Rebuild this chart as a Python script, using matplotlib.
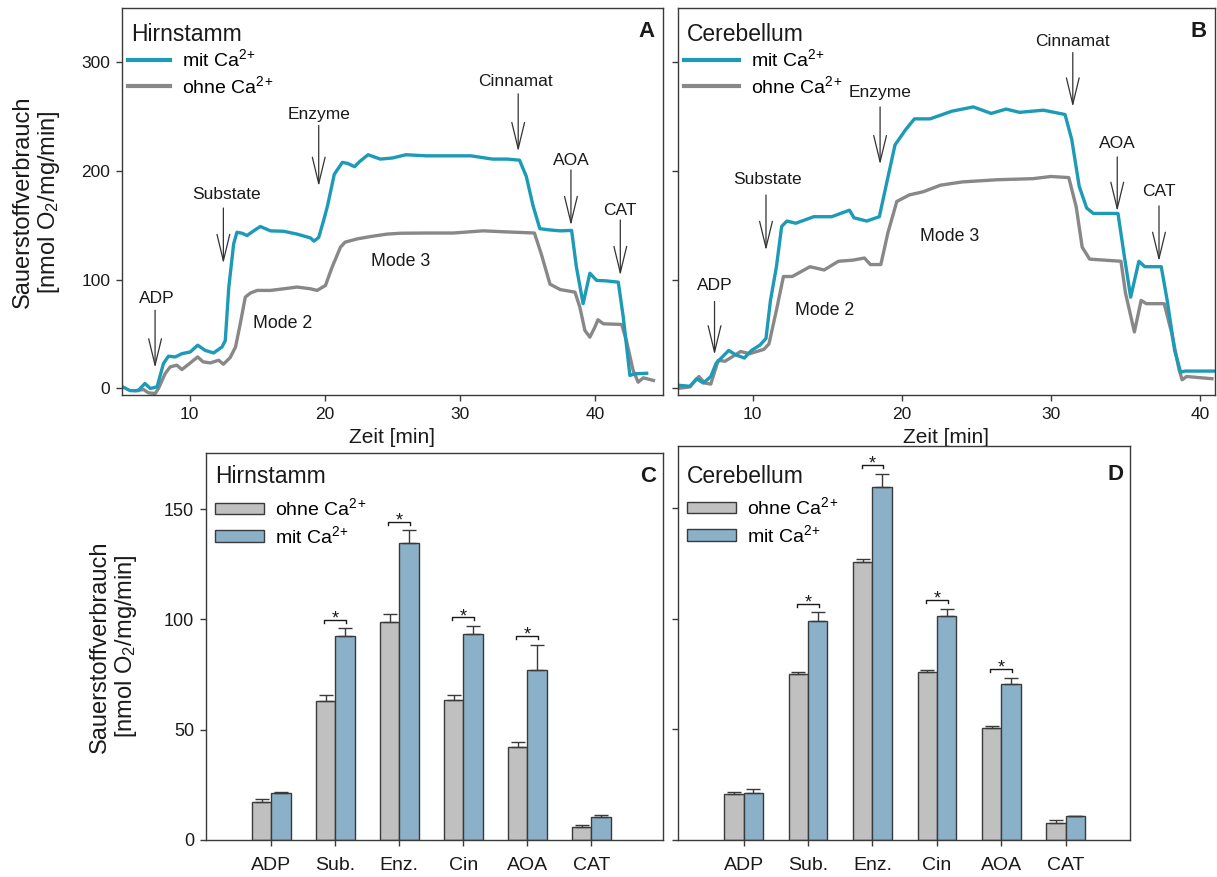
import numpy as np
import matplotlib
matplotlib.use("Agg")
import matplotlib.pyplot as plt
from matplotlib.lines import Line2D
from matplotlib.patches import Patch

# --- oxygraph traces (time in min, O2 consumption in nmol O2/mg/min) ---
t_hirn_mit = [5.05, 5.6, 6.2, 6.7, 7.1, 7.6, 8.07, 8.44, 8.94, 9.43, 10.05, 10.6,
              11.16, 11.78, 12.4, 12.64, 12.9, 13.26, 13.5, 13.88, 14.25, 14.74,
              15.23, 15.98, 16.96, 17.95, 18.94, 19.2, 19.55, 19.9, 20.2, 20.7,
              21.3, 21.7, 22.2, 22.6, 23.2, 24.1, 25.0, 26.0, 27.5, 29.2, 30.8,
              32.4, 33.5, 34.4, 34.9, 35.4, 35.9, 36.5, 37.4, 38.25, 38.6, 39.1,
              39.6, 40.1, 40.8, 41.7, 42.07, 42.56, 42.93, 43.8]
o2_hirn_mit = [1.5, -2, -2, 4.6, 0, 1.5, 23, 29.7, 29, 32, 33.6, 39.8,
               35, 32.7, 38.2, 44, 93, 133, 143.7, 142.8, 140.7, 145,
               149, 145, 144.6, 142, 138.5, 135.5, 139, 154, 168, 197,
               208, 207, 204, 209, 215, 211, 212, 215, 214, 214, 214,
               211, 211, 210, 195, 168, 147, 146, 145, 145.4, 112, 78,
               106, 99.4, 99, 97.8, 65.6, 12, 13.5, 14]

t_hirn_ohne = [6.0, 6.6, 6.96, 7.46, 7.7, 8.2, 8.57, 9.06, 9.43, 9.93, 10.6, 11.0,
               11.53, 12.15, 12.5, 13.0, 13.4, 13.75, 14.12, 14.5, 15.0, 15.98,
               16.96, 17.95, 18.94, 19.43, 20.05, 20.54, 21.16, 21.5, 22.4, 23.4,
               24.6, 25.6, 27.6, 29.5, 31.7, 33.5, 35.5, 36.0, 36.65, 37.4, 38.5,
               38.86, 39.23, 39.6, 39.97, 40.2, 40.6, 41.95, 42.3, 42.8, 43.17,
               43.55, 44.3]
o2_hirn_ohne = [-2, -1, -4, -4.6, 0, 13.8, 19.9, 21.4, 17.4, 22.3, 29, 24.5,
                23.5, 26, 22.3, 28.4, 38.2, 59.6, 84, 87.8, 90.2, 90.2,
                91.7, 93.3, 91.7, 90.2, 94.8, 111.6, 130, 134.6, 137.6, 139.8,
                142, 142.8, 143, 143, 145, 144, 143, 124, 96, 91, 88.6,
                74.8, 53.4, 47.2, 56.4, 63.2, 59.5, 58.9, 44, 16.6, 5.8,
                9.8, 7.4]

t_cere_mit = [5.0, 5.8, 6.25, 6.7, 7.2, 7.55, 7.9, 8.4, 8.86, 9.45, 9.93, 10.5,
              10.9, 11.2, 11.6, 11.95, 12.3, 12.9, 14.1, 15.3, 16.5, 16.8, 17.65,
              18.5, 18.8, 19.55, 20.26, 20.85, 21.9, 23.35, 24.8, 26.0, 27.0,
              27.9, 29.5, 30.95, 31.4, 31.9, 32.4, 32.85, 34.5, 34.9, 35.35,
              35.9, 36.3, 37.4, 37.8, 38.3, 38.7, 39.0, 40.9]
o2_cere_mit = [3, 2, 9, 5, 11, 23, 28, 35, 31, 28, 35, 40,
               46, 81, 112, 149, 154, 152, 158, 158, 164, 157, 154,
               158, 177, 224, 238, 248, 248, 255, 259, 253, 257,
               254, 256, 252, 229, 186, 166, 161, 161, 124, 84,
               117, 112, 112, 81, 35, 15, 16, 16]

t_cere_ohne = [5.0, 5.8, 6.4, 6.8, 7.2, 7.7, 8.15, 9.2, 9.8, 10.76, 11.1, 11.6,
               12.07, 12.66, 13.85, 14.8, 15.75, 16.7, 17.5, 17.9, 18.6, 19.07,
               19.67, 20.5, 21.45, 22.6, 24.06, 26.4, 28.8, 30.0, 31.2, 31.7,
               32.1, 32.6, 34.7, 35.0, 35.6, 36.05, 36.4, 37.6, 38.1, 38.6,
               38.8, 39.1, 40.8]
o2_cere_ohne = [0, 1.5, 11, 5, 4, 26, 25, 34, 32, 36, 41, 72,
                103, 103, 112, 109, 117, 118, 120, 114, 114, 143,
                172, 178, 181, 187, 190, 192, 193, 195, 194, 167,
                130, 119, 117, 88, 52, 81, 78, 78, 51, 17,
                8, 11, 9]

# --- summary bars ---
stages = ["ADP", "Sub.", "Enz.", "Cin", "AOA", "CAT"]
hirn_ohne = [17.2, 63.0, 98.9, 63.3, 42.1, 6.0]
hirn_ohne_err = [1.2, 2.6, 3.6, 2.4, 2.4, 0.6]
hirn_mit = [21.3, 92.7, 134.6, 93.6, 77.3, 10.4]
hirn_mit_err = [0.4, 3.3, 5.8, 3.5, 11.3, 0.9]
cere_ohne = [20.6, 75.0, 125.6, 76.1, 50.8, 7.9]
cere_ohne_err = [1.2, 0.7, 1.2, 0.8, 0.9, 1.2]
cere_mit = [21.4, 98.7, 159.5, 101.4, 70.3, 10.7]
cere_mit_err = [1.7, 4.2, 6.0, 3.1, 3.0, 0.2]
significant = [1, 2, 3, 4]

# label, text t, text y, arrow t, arrow start y, arrow tip y
notes_hirn = [("ADP", 7.6, 83, 7.45, 72, 19),
              ("Substate", 12.75, 178, 12.5, 166, 115),
              ("Enzyme", 19.55, 252, 19.55, 242, 186),
              ("Cinnamat", 34.1, 282, 34.3, 271, 218),
              ("AOA", 38.2, 210, 38.2, 201, 150),
              ("CAT", 41.8, 164, 41.85, 155, 104)]
modes_hirn = [("Mode 2", 16.9, 60), ("Mode 3", 25.6, 117)]
notes_cere = [("ADP", 7.45, 95, 7.45, 80, 31),
              ("Substate", 11.0, 192, 10.9, 178, 127),
              ("Enzyme", 18.55, 272, 18.55, 259, 206),
              ("Cinnamat", 31.47, 319, 31.47, 309, 259),
              ("AOA", 34.45, 225, 34.45, 213, 163),
              ("CAT", 37.25, 181, 37.25, 168, 117)]
modes_cere = [("Mode 2", 14.85, 72), ("Mode 3", 23.2, 140)]

BLUE_LINE = "#1c9ab6"
GRAY_LINE = "#888888"
GRAY_BAR = "#c0c0c0"
BLUE_BAR = "#8ab1c8"
EDGE = "#3a3a3a"
INK = "#1a1a1a"

plt.rcParams["font.family"] = ["Liberation Sans", "DejaVu Sans"]
plt.rcParams["mathtext.fontset"] = "custom"
plt.rcParams["mathtext.rm"] = "Liberation Sans"
plt.rcParams["mathtext.it"] = "Liberation Sans:italic"
plt.rcParams["mathtext.bf"] = "Liberation Sans:bold"

YLABEL = "Sauerstoffverbrauch\n[nmol O$_2$/mg/min]"
MIT = "mit Ca$^{2}$$^{+}$"
OHNE = "ohne Ca$^{2}$$^{+}$"


def frame(ax):
    for sp in ax.spines.values():
        sp.set_color(EDGE)
        sp.set_linewidth(1.0)
    ax.tick_params(direction="out", length=4.5, width=1.0, color=EDGE, labelcolor=INK)


def trace_panel(ax, tissue, letter, t_mit, o2_mit, t_ohne, o2_ohne, xmax,
                notes, modes, handlelength, show_ylabels):
    frame(ax)
    ax.plot(t_ohne, o2_ohne, color=GRAY_LINE, lw=2.4, solid_joinstyle="round")
    ax.plot(t_mit, o2_mit, color=BLUE_LINE, lw=2.4, solid_joinstyle="round")
    ax.set_xlim(5, xmax)
    ax.set_ylim(-6, 350)
    ax.set_xticks([10, 20, 30, 40])
    ax.set_yticks([0, 100, 200, 300])
    ax.tick_params(labelsize=12.5, pad=4)
    if not show_ylabels:
        ax.set_yticklabels([])
    for label, tx, ty, ta, y0, y1 in notes:
        ax.text(tx, ty, label, ha="center", va="center", fontsize=12.5, color=INK)
        ax.annotate("", xy=(ta, y1), xytext=(ta, y0),
                    arrowprops=dict(arrowstyle="->,head_length=1.9,head_width=0.46",
                                    lw=0.9, color="#333333", shrinkA=0, shrinkB=0,
                                    mutation_scale=10))
    for label, tx, ty in modes:
        ax.text(tx, ty, label, ha="center", va="center", fontsize=12.8, color=INK)
    ax.text(0.017, 0.915, tissue, transform=ax.transAxes, fontsize=16.5,
            va="baseline", ha="left", color=INK)
    ax.text(0.985, 0.925, letter, transform=ax.transAxes, fontsize=16,
            fontweight="bold", va="baseline", ha="right", color=INK)
    handles = [Line2D([], [], color=BLUE_LINE, lw=3, label=MIT),
               Line2D([], [], color=GRAY_LINE, lw=3, label=OHNE)]
    ax.legend(handles=handles, loc="upper left", bbox_to_anchor=(0.012, 0.895),
              frameon=False, fontsize=14, handlelength=handlelength,
              handletextpad=0.6, labelspacing=0.25, borderpad=0, borderaxespad=0)
    ax.text(0.5, -0.11, "Zeit [min]", transform=ax.transAxes, ha="center",
            va="center", fontsize=15, color=INK)


def bar_panel(ax, tissue, letter, ohne, ohne_err, mit, mit_err, ytop,
              title_y, letter_y, legend_y, show_ylabels):
    frame(ax)
    x = np.arange(len(stages))
    w = 0.3
    zeros = [0] * len(stages)
    ekw = dict(ecolor=EDGE, elinewidth=1.0, capthick=1.0)
    ax.bar(x - w / 2, ohne, w, color=GRAY_BAR, edgecolor=EDGE, lw=1.0,
           yerr=[zeros, ohne_err], capsize=5, error_kw=ekw, zorder=2)
    ax.bar(x + w / 2, mit, w, color=BLUE_BAR, edgecolor=EDGE, lw=1.0,
           yerr=[zeros, mit_err], capsize=5, error_kw=ekw, zorder=2)
    for i in significant:
        h = max(ohne[i] + ohne_err[i], mit[i] + mit_err[i]) + 3.8
        ax.plot([i - w / 2 - 0.02, i - w / 2 - 0.02, i + w / 2 + 0.02, i + w / 2 + 0.02],
                [h - 1.3, h, h, h - 1.3], color=INK, lw=1.0)
        ax.text(i, h - 1.6, "*", ha="center", va="baseline", fontsize=13, color=INK)
    ax.set_xticks(x)
    ax.set_xticklabels(stages)
    ax.set_yticks([0, 50, 100, 150])
    ax.tick_params(axis="x", labelsize=14, pad=8)
    ax.tick_params(axis="y", labelsize=13, pad=4)
    if not show_ylabels:
        ax.set_yticklabels([])
    ax.set_ylim(0, ytop)
    ax.text(0.02, title_y, tissue, transform=ax.transAxes, fontsize=16.5,
            va="baseline", ha="left", color=INK)
    ax.text(0.985, letter_y, letter, transform=ax.transAxes, fontsize=16,
            fontweight="bold", va="baseline", ha="right", color=INK)
    handles = [Patch(facecolor=GRAY_BAR, edgecolor=EDGE, lw=1.0, label=OHNE),
               Patch(facecolor=BLUE_BAR, edgecolor=EDGE, lw=1.0, label=MIT)]
    ax.legend(handles=handles, loc="upper left", bbox_to_anchor=(0.02, legend_y),
              frameon=False, fontsize=14, handlelength=2.5, handleheight=0.55,
              handletextpad=0.6, labelspacing=0.3, borderpad=0, borderaxespad=0)


fig = plt.figure(figsize=(12.17, 8.77), dpi=100)
ax_a = fig.add_axes([0.1002, 0.5496, 0.4445, 0.4413])
ax_b = fig.add_axes([0.5571, 0.5496, 0.4412, 0.4413])
ax_c = fig.add_axes([0.1693, 0.0422, 0.3755, 0.4413])
ax_d = fig.add_axes([0.5571, 0.0422, 0.3715, 0.4493])

trace_panel(ax_a, "Hirnstamm", "A", t_hirn_mit, o2_hirn_mit, t_hirn_ohne, o2_hirn_ohne,
            45, notes_hirn, modes_hirn, 2.15, True)
trace_panel(ax_b, "Cerebellum", "B", t_cere_mit, o2_cere_mit, t_cere_ohne, o2_cere_ohne,
            41, notes_cere, modes_cere, 2.8, False)

bar_panel(ax_c, "Hirnstamm", "C", hirn_ohne, hirn_ohne_err, hirn_mit, hirn_mit_err,
          175.5, 0.922, 0.926, 0.885, True)
ax_c.set_xlim(-1.02, 6.12)
bar_panel(ax_d, "Cerebellum", "D", cere_ohne, cere_ohne_err, cere_mit, cere_mit_err,
          178.0, 0.905, 0.913, 0.872, False)
ax_d.set_xlim(-1.02, 6.0)

fig.text(0.0304, 0.770, YLABEL, rotation=90, ha="center", va="center",
         fontsize=17, color=INK, linespacing=1.15)
fig.text(0.0937, 0.263, YLABEL, rotation=90, ha="center", va="center",
         fontsize=17, color=INK, linespacing=1.15)

fig.savefig("out.png", dpi=100)
